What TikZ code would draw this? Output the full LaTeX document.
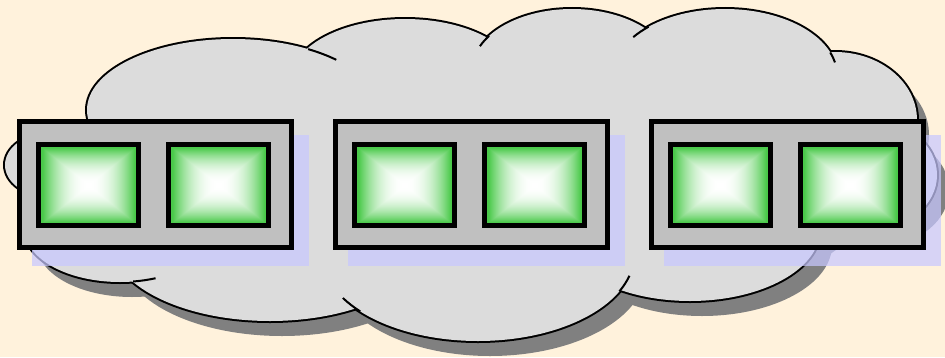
\documentclass[tikz,border=0pt]{standalone}
\definecolor{cream}{RGB}{255,242,220}
\definecolor{cloudfill}{RGB}{220,220,220}
\definecolor{cloudshadow}{RGB}{128,128,128}
\definecolor{boxfill}{RGB}{192,192,192}
\definecolor{lav}{RGB}{200,200,255}
\pgfdeclarefunctionalshading{pyr}{\pgfpoint{-50bp}{-50bp}}{\pgfpoint{50bp}{50bp}}{}{
abs exch abs 2 copy lt {exch} if pop 23 div dup 1 gt {pop 1} if 2.2 exp
dup 0.71 mul 1 exch sub exch dup 0.21 mul 1 exch sub exch 0.71 mul 1 exch sub
}
\pgfdeclarelayer{cloudlayer}
\pgfdeclarelayer{shadowlayer}
\pgfsetlayers{cloudlayer,shadowlayer,main}
\newcommand{\cloudbumps}[1]{%
  \foreach \cx/\cy/\rx/\ry in {50/165/45/32, 233/110/146/71, 405/80/114/61,
      572/70/100/61, 725/75/112/66, 835/120/82/68, 870/175/67/55,
      690/230/130/71, 478/255/156/86, 270/240/160/81, 120/230/95/52}
    {\path[#1] (\cx,-\cy) ellipse [x radius=\rx, y radius=\ry];}%
}
\newcommand{\cloudcore}[1]{%
  \path[#1] (100,-100) -- (880,-100) -- (900,-180) -- (810,-245) -- (130,-260) -- cycle;%
}
\tikzset{
  cloudline/.style={draw=black, line width=1.5pt},
  boxstyle/.style={draw=black, fill=boxfill, line width=3.75pt,
    minimum width=204pt, minimum height=94.5pt, inner sep=0pt},
  greensq/.style={draw=black, line width=3.75pt, shade, shading=pyr,
    minimum width=75pt, minimum height=60.75pt, inner sep=0pt},
  lavshadow/.style={fill=lav, fill opacity=0.72}
}
\begin{document}
\begin{tikzpicture}[x=0.75pt, y=0.75pt]
\begin{pgfonlayer}{cloudlayer}
  \fill[cream] (0,0) rectangle (945,-357);
  \useasboundingbox (0,0) rectangle (945,-357);
  % cloud shadow
  \begin{scope}[shift={(12,-15)}]
    \cloudbumps{fill=cloudshadow}
    \cloudcore{fill=cloudshadow}
  \end{scope}
  % cloud outline (double width, inner half covered by fill)
  \cloudbumps{draw=black, line width=3pt}
  % cloud fill
  \cloudbumps{fill=cloudfill}
  \cloudcore{fill=cloudfill}
  % inner arc ends of the cloud
  \draw[cloudline] (233,-110) ++(59:146 and 71) arc[start angle=59, end angle=45, x radius=146, y radius=71];
  \draw[cloudline] (572,-70) ++(146:100 and 61) arc[start angle=146, end angle=157, x radius=100, y radius=61];
  \draw[cloudline] (725,-75) ++(133:112 and 66) arc[start angle=133, end angle=145, x radius=112, y radius=66];
  \draw[cloudline] (725,-75) ++(20:112 and 66) arc[start angle=20, end angle=11, x radius=112, y radius=66];
  \draw[cloudline] (478,-255) ++(221:156 and 86) arc[start angle=221, end angle=210, x radius=156, y radius=86];
  \draw[cloudline] (478,-255) ++(335:156 and 86) arc[start angle=335, end angle=346, x radius=156, y radius=86];
  \draw[cloudline] (120,-230) ++(278:95 and 52) arc[start angle=278, end angle=292, x radius=95, y radius=52];
\end{pgfonlayer}
% boxes
\node[boxstyle] (b1) at (155.5,-184.5) {};
\node[boxstyle] (b2) at (471.5,-184.5) {};
\node[boxstyle] (b3) at (787,-184.5) {};
% green squares
\node[greensq] (s11) at (88.5,-185) {};
\node[greensq] (s12) at (218.5,-185) {};
\node[greensq] (s21) at (404.5,-185) {};
\node[greensq] (s22) at (534.5,-185) {};
\node[greensq] (s31) at (720,-185) {};
\node[greensq] (s32) at (850,-185) {};
% lavender box shadows
\begin{pgfonlayer}{shadowlayer}
  \foreach \b in {b1,b2,b3}
    \fill[lavshadow] ([shift={(15,-16)}]\b.south west) rectangle ([shift={(15,-16)}]\b.north east);
\end{pgfonlayer}
\end{tikzpicture}
\end{document}
